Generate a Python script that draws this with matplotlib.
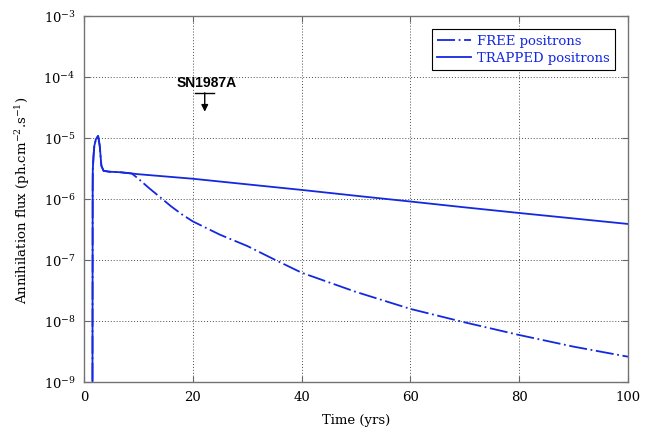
import numpy as np
import matplotlib
matplotlib.use('Agg')
import matplotlib.pyplot as plt

# early part, common to both curves
t_early = [1.55, 1.6, 1.62, 1.75, 1.9, 2.2, 2.6, 2.9, 3.2, 3.6, 4.7, 6.6, 8.8]
flux_early = [1e-10, 1.5e-6, 3.0e-6, 5.0e-6, 7.4e-6, 9.6e-6, 1.08e-5, 7.4e-6, 3.5e-6, 2.9e-6, 2.8e-6, 2.75e-6, 2.62e-6]

# trapped positrons
t_trapped = [10, 20, 30, 40, 50, 60, 70, 80, 90, 100]
flux_trapped = [2.55e-6, 2.15e-6, 1.74e-6, 1.41e-6, 1.13e-6, 9.1e-7, 7.3e-7, 5.9e-7, 4.8e-7, 3.9e-7]

# free positrons
t_free = [10, 12, 14, 16, 18, 20, 25, 30, 35, 40, 50, 60, 70, 80, 90, 100]
flux_free = [2.15e-6, 1.5e-6, 1.07e-6, 7.6e-7, 5.6e-7, 4.3e-7, 2.6e-7, 1.7e-7, 1.02e-7,
             6.2e-8, 3.0e-8, 1.58e-8, 9.5e-9, 5.9e-9, 3.8e-9, 2.6e-9]

# SN1987A upper limit
sn_t = 22.2
sn_halfwidth = 1.75
sn_limit = 5.5e-5
sn_arrow_end = 2.7e-5
sn_text_y = 8.3e-5

plt.rcParams['font.family'] = 'DejaVu Serif'
plt.rcParams['mathtext.fontset'] = 'dejavuserif'

blue = '#1428e0'

fig = plt.figure(figsize=(6.54, 4.35), dpi=100)
ax = fig.add_axes([0.1284, 0.1195, 0.9602 - 0.1284, 0.9609 - 0.1195])

ax.plot(t_early + t_free, flux_early + flux_free, color=blue, lw=1.3,
        linestyle=(0, (10, 2, 1, 2)), label='FREE positrons')
ax.plot(t_early + t_trapped, flux_early + flux_trapped, color=blue, lw=1.3,
        label='TRAPPED positrons')

ax.set_yscale('log')
ax.set_xlim(0, 100)
ax.set_ylim(1e-9, 1e-3)
ax.set_xticks([0, 20, 40, 60, 80, 100])
ax.set_yticks([1e-9, 1e-8, 1e-7, 1e-6, 1e-5, 1e-4, 1e-3])
ax.minorticks_off()
ax.grid(True, color='0.3', linestyle=(0, (1, 2)), lw=0.7)
ax.tick_params(direction='in', length=4, width=0.8, top=True, right=True,
               labelsize=9.5, color='0.4', pad=6)
for s in ax.spines.values():
    s.set_color('0.45')
    s.set_linewidth(1.0)

# upper limit marker
ax.plot([sn_t - sn_halfwidth, sn_t + sn_halfwidth], [sn_limit, sn_limit], color='k', lw=1)
ax.annotate('', xy=(sn_t, sn_arrow_end), xytext=(sn_t, sn_limit),
            arrowprops=dict(arrowstyle='-|>', color='k', lw=1, mutation_scale=10,
                            shrinkA=0, shrinkB=0))
ax.text(sn_t + 0.3, sn_text_y, 'SN1987A', ha='center', va='center', fontsize=10,
        fontweight='bold', family='Liberation Sans')

ax.set_xlabel('Time (yrs)', fontsize=9.5, labelpad=7)
ax.set_ylabel('Annihilation flux (ph.cm$^{-2}$.s$^{-1}$)', fontsize=9.5, labelpad=8)

leg = ax.legend(loc='upper right', fontsize=9.5, handlelength=2.6, fancybox=False,
                edgecolor='k', framealpha=1, borderaxespad=1.0, labelspacing=0.3,
                handletextpad=0.4, borderpad=0.4)
leg.get_frame().set_linewidth(0.8)
for txt in leg.get_texts():
    txt.set_color(blue)

fig.savefig('out.png', dpi=100)
